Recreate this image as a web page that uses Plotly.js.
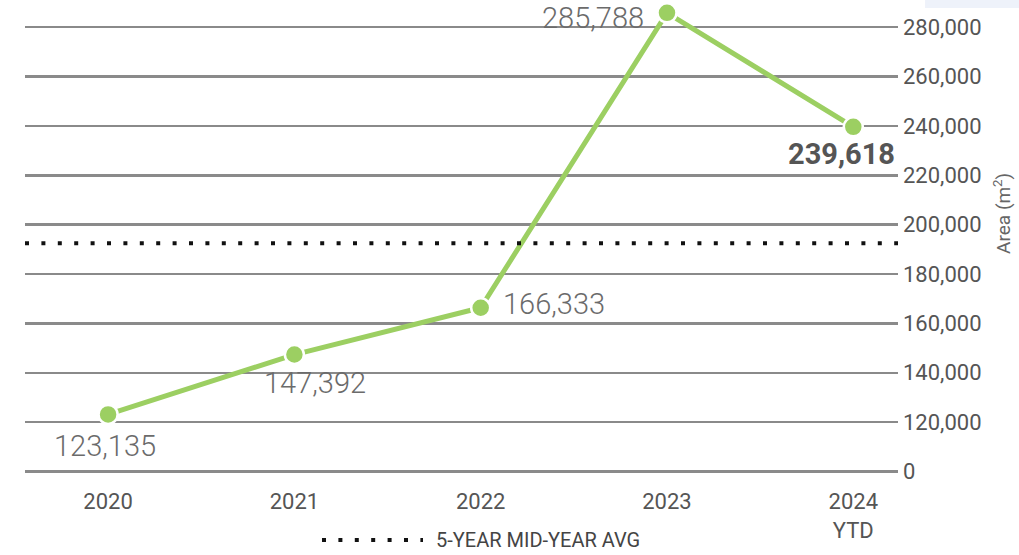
<!DOCTYPE html>
<html>
<head>
<meta charset="utf-8">
<script src="https://cdn.plot.ly/plotly-3.0.1.min.js"></script>
<style>
html,body{margin:0;padding:0;background:#fff;}
#chart{width:1019px;height:555px;}
</style>
</head>
<body>
<div id="chart"></div>
<script>
// ---- data ----
const years = ["2020", "2021", "2022", "2023", "2024<br>YTD"];
const areaValues = [123135, 147392, 166333, 285788, 239618];
const valueLabels = ["123,135", "147,392", "166,333", "285,788", "239,618"];
const fiveYearAvg = 192453;
const tickValues = [100000, 120000, 140000, 160000, 180000, 200000, 220000, 240000, 260000, 280000];
const tickLabels = ["0", "120,000", "140,000", "160,000", "180,000", "200,000", "220,000", "240,000", "260,000", "280,000"];
const legendLabel = "5-YEAR MID-YEAR AVG";
const axisTitle = "Area (m<sup>2</sup>)";

// ---- styles ----
const FONT = "Roboto, 'Liberation Sans', sans-serif";
const GREEN = "#9ccf62";
const labelStyles = [
  {xanchor: "center", xshift: -3,  yshift: -32, bold: false},
  {xanchor: "center", xshift: 21,  yshift: -28, bold: false},
  {xanchor: "left",   xshift: 20,  yshift: 4,   bold: false},
  {xanchor: "right",  xshift: -21, yshift: -5,  bold: false},
  {xanchor: "right",  xshift: 44,  yshift: -27, bold: true}
];

// category axis: annotations placed by category index
const annotations = areaValues.map((v, i) => ({
  x: i, y: v, xref: "x", yref: "y",
  text: labelStyles[i].bold ? "<b>" + valueLabels[i] + "</b>" : valueLabels[i],
  showarrow: false,
  xanchor: labelStyles[i].xanchor, yanchor: "middle",
  xshift: labelStyles[i].xshift, yshift: labelStyles[i].yshift,
  font: labelStyles[i].bold
    ? {family: FONT, size: 29, color: "#555555", weight: 700}
    : {family: FONT, size: 29, color: "#6b6b6b", weight: 300}
}));

annotations.push({
  xref: "paper", yref: "paper", x: 0.468, y: -0.1407,
  text: legendLabel, showarrow: false, xanchor: "left", yanchor: "middle",
  font: {family: FONT, size: 20, color: "#444444"}
});

annotations.push({
  xref: "paper", yref: "paper", x: 1.119, y: 0.5565,
  text: axisTitle, showarrow: false, textangle: -90,
  xanchor: "center", yanchor: "middle",
  font: {family: FONT, size: 19, color: "#666666"}
});

const data = [{
  type: "scatter", mode: "lines+markers",
  x: years, y: areaValues,
  line: {color: GREEN, width: 5},
  marker: {color: GREEN, size: 19, line: {color: "#ffffff", width: 2.5}},
  cliponaxis: false, showlegend: false, hoverinfo: "skip"
}];

const layout = {
  width: 1019, height: 555,
  margin: {l: 25, r: 121, t: 5, b: 81},
  paper_bgcolor: "#ffffff", plot_bgcolor: "#ffffff",
  showlegend: false,
  xaxis: {
    type: "category", range: [-0.446, 4.24],
    showgrid: false, zeroline: false, showline: false, ticks: "",
    tickfont: {family: FONT, size: 22, color: "#555555"},
    ticklabelstandoff: 12
  },
  yaxis: {
    side: "right", range: [99000, 288975],
    tickvals: tickValues, ticktext: tickLabels,
    showgrid: true, gridcolor: "#8a8a8a", gridwidth: 2.5,
    zeroline: false, showline: false, ticks: "",
    tickfont: {family: FONT, size: 22, color: "#555555"},
    ticklabelstandoff: 4
  },
  shapes: [
    {type: "line", xref: "paper", yref: "y", x0: 0, x1: 1, y0: fiveYearAvg, y1: fiveYearAvg,
     line: {color: "#111111", width: 4, dash: "4px,12.4px"}, layer: "above"},
    {type: "line", xref: "paper", yref: "paper", x0: 0.3402, x1: 0.4559, y0: -0.1407, y1: -0.1407,
     line: {color: "#111111", width: 4, dash: "4px,12.4px"}},
    {type: "rect", xref: "paper", yref: "paper", x0: 1.031, x1: 1.14, y0: 0.9936, y1: 1.02,
     fillcolor: "#eef2fa", line: {width: 0}}
  ],
  annotations: annotations
};

Plotly.newPlot("chart", data, layout, {displayModeBar: false, staticPlot: true});
</script>
</body>
</html>
